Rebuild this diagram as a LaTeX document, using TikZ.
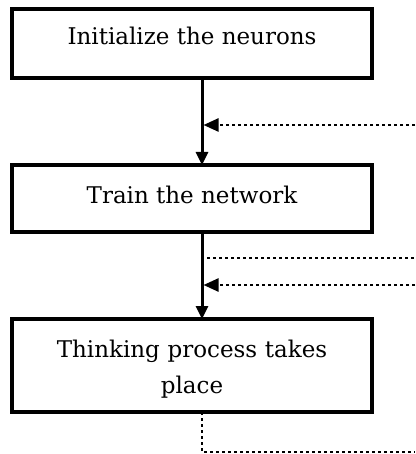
\documentclass[tikz,border=0pt]{standalone}
\usepackage{fontspec}
\setmainfont{DejaVu Serif}
\usetikzlibrary{positioning, arrows.meta}

\begin{document}
\begin{tikzpicture}[x=1pt, y=1pt, >={Triangle[length=13pt, width=12pt]},
    stage/.style={draw, rectangle, line width=3.2pt, minimum width=360pt, inner sep=0pt, outer sep=0pt,
      align=center, font=\fontsize{23}{36}\selectfont},
    flow/.style={line width=3pt},
    feed/.style={line width=2.4pt, dash pattern=on 2.6pt off 3.4pt}]

    \useasboundingbox (0,0) rectangle (415,-454);

    % --- Begin Stage Nodes ---
    \node [stage, text height=36pt, text depth=33pt] (InitNeurons) at (192,-43.5) {Initialize the neurons};
    \node [stage, text height=38pt, text depth=29pt, below=87pt of InitNeurons] (TrainNetwork) {Train the network};
    \node [stage, text height=38pt, text depth=55pt, text width=360pt, below=87pt of TrainNetwork] (ThinkingProcess) {
      Thinking process takes \\
      place
    };
    % --- End Stage Nodes ---

    % Free ends at the right margin.
    \coordinate (FeedIn1) at (415,-125);
    \coordinate (FeedOut1) at (415,-258);
    \coordinate (FeedIn2) at (415,-285);
    \coordinate (FeedOut2) at (415,-452);

    % Connect the nodes.
    \draw[flow, ->] ([xshift=10pt]InitNeurons.south) -- ([xshift=10pt]TrainNetwork.north);
    \draw[flow, ->] ([xshift=10pt]TrainNetwork.south) -- ([xshift=10pt]ThinkingProcess.north);

    % Dotted side lines.
    \draw[feed, -{Triangle[length=15pt, width=13pt]}] (FeedIn1) -- ([xshift=11.5pt]InitNeurons.south |- FeedIn1);
    \draw[feed] ([xshift=15pt]TrainNetwork.south |- FeedOut1) -- (FeedOut1);
    \draw[feed, -{Triangle[length=15pt, width=13pt]}] (FeedIn2) -- ([xshift=11.5pt]TrainNetwork.south |- FeedIn2);
    \draw[feed] ([xshift=10pt]ThinkingProcess.south) |- (FeedOut2);

\end{tikzpicture}
\end{document}
